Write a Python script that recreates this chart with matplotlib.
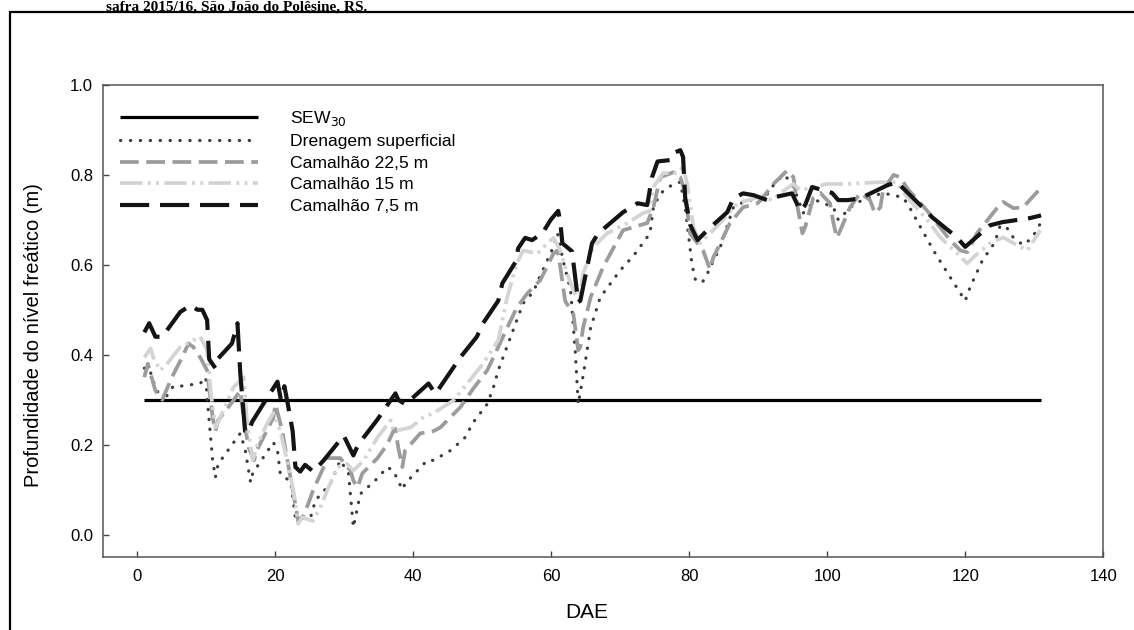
import matplotlib
matplotlib.use("Agg")
import matplotlib.pyplot as plt
from matplotlib.patches import Rectangle

plt.rcParams['font.family'] = ['Liberation Sans', 'DejaVu Sans']

# SEW30 reference level
sew_x = [1, 131]
sew_y = [0.3, 0.3]

# Drenagem superficial
dren_x = [1, 1.7, 2.6, 3.8, 4.3, 5.2, 6.2, 9.1, 9.9, 10.1, 10.9, 11.3, 11.7, 14.9, 15.2,
          15.6, 16.4, 16.7, 19.7, 20.3, 20.7, 21.2, 22.2, 22.9, 23.9, 25.1, 25.8, 28, 29.4,
          30.6, 31.3, 32.3, 34.8, 36.2, 37.1, 38.4, 38.8, 42, 42.9, 45.4, 47.5, 48.7, 50.7,
          51.6, 52.3, 55, 55.9, 57.4, 58.1, 60.1, 60.9, 61.7, 62.8, 63.5, 63.9, 64.5, 65.7,
          67.1, 70, 71.9, 74.3, 74.8, 75.8, 77.7, 78.7, 79.4, 80.4, 80.9, 81.9, 82.6, 84.5,
          86.4, 88.4, 90.7, 92.2, 93.6, 94.6, 95.7, 96.5, 98.3, 100.9, 101.6, 104, 108, 111,
          112, 115.4, 117.8, 120, 120.7, 122.5, 124.3, 125, 125.8, 127, 128.4, 129.7, 131.2]
dren_y = [0.37, 0.37, 0.327, 0.294, 0.31, 0.33, 0.33, 0.336, 0.35, 0.305, 0.165, 0.127, 0.157, 0.225, 0.21,
          0.19, 0.116, 0.136, 0.205, 0.187, 0.136, 0.127, 0.12, 0.036, 0.036, 0.038, 0.076, 0.114, 0.165,
          0.136, 0.016, 0.09, 0.125, 0.15, 0.142, 0.10, 0.113, 0.165, 0.165, 0.187, 0.216, 0.25, 0.29,
          0.327, 0.365, 0.477, 0.514, 0.54, 0.566, 0.633, 0.67, 0.61, 0.543, 0.40, 0.29, 0.343, 0.46,
          0.528, 0.588, 0.62, 0.67, 0.728, 0.759, 0.78, 0.784, 0.728, 0.60, 0.566, 0.561, 0.58, 0.64,
          0.728, 0.744, 0.744, 0.777, 0.80, 0.788, 0.75, 0.715, 0.744, 0.728, 0.70, 0.737, 0.76, 0.75,
          0.726, 0.632, 0.573, 0.52, 0.55, 0.61, 0.65, 0.684, 0.688, 0.66, 0.644, 0.66, 0.70]

# Camalhao 22,5 m
c225_x = [1, 1.5, 2.6, 3.6, 5, 6.5, 7.4, 8.1, 9.1, 10.1, 10.9, 11.3, 11.7, 13.9, 14.9,
          15.4, 16.1, 16.9, 17.4, 19.7, 20, 21, 21.4, 22.5, 23.3, 24, 24.8, 25.5, 27, 27.5,
          29.4, 30.9, 31.3, 31.9, 32.6, 34.8, 36.2, 37.1, 37.4, 37.8, 38.4, 38.8, 41, 42.9,
          43.9, 46.8, 48.7, 50.7, 51.6, 53.6, 55, 56.5, 58.4, 60.3, 60.9, 61.3, 62, 63.2,
          63.9, 64.2, 64.6, 65.7, 67.5, 70.4, 73.9, 74.8, 75.8, 77.7, 78.7, 79.4, 80.1, 82,
          83, 83.5, 84.5, 85.9, 87.8, 89.9, 90.7, 92.2, 94.2, 95.1, 95.7, 96.4, 96.8, 98,
          99, 100.4, 100.9, 101.4, 101.9, 103.3, 104.8, 106.2, 106.9, 107.7, 108.1, 109.6,
          110.6, 111.6, 114.5, 117.8, 119.3, 120.3, 121.7, 124.6, 125.5, 127, 128.4, 130.9]
c225_y = [0.35, 0.38, 0.32, 0.30, 0.35, 0.395, 0.425, 0.417, 0.394, 0.365, 0.26, 0.23, 0.254, 0.298, 0.32,
          0.26, 0.194, 0.165, 0.19, 0.26, 0.29, 0.23, 0.194, 0.10, 0.03, 0.04, 0.07, 0.10, 0.15, 0.17,
          0.17, 0.142, 0.12, 0.105, 0.136, 0.17, 0.2, 0.23, 0.235, 0.194, 0.15, 0.187, 0.225, 0.23,
          0.238, 0.283, 0.325, 0.365, 0.394, 0.46, 0.505, 0.536, 0.566, 0.625, 0.632, 0.595, 0.52, 0.49,
          0.41, 0.417, 0.46, 0.528, 0.595, 0.677, 0.693, 0.728, 0.795, 0.806, 0.795, 0.76, 0.67, 0.632,
          0.59, 0.617, 0.648, 0.693, 0.728, 0.737, 0.75, 0.78, 0.81, 0.795, 0.728, 0.67, 0.684, 0.75,
          0.76, 0.737, 0.693, 0.66, 0.677, 0.728, 0.76, 0.744, 0.715, 0.728, 0.766, 0.80,
          0.795, 0.77, 0.72, 0.655, 0.632, 0.628, 0.67, 0.726, 0.74, 0.726, 0.728, 0.77]

# Camalhao 15 m
c15_x = [1, 1.9, 2.3, 3.3, 4.3, 6.2, 9.1, 10.1, 10.6, 11.3, 12, 13.9, 15.4, 15.9, 16.7,
         17.4, 18.8, 19.7, 20.7, 21.7, 22.6, 23.3, 23.9, 25.4, 26.5, 27.5, 29, 30.4, 31.3,
         32.8, 34.8, 36.7, 37.1, 39.6, 41.4, 42.9, 45.8, 47.8, 50.1, 52.3, 53.6, 55, 55.9,
         58, 59.4, 60.3, 61.3, 62.3, 63.2, 64, 64.6, 66.1, 68.1, 71, 73.3, 74.3, 74.8, 76.2,
         78.3, 79.1, 79.7, 80.6, 81.6, 83, 84.9, 87, 89.9, 92.2, 93.2, 95.1, 96.1, 98, 100,
         102.9, 107.7, 110, 111.6, 114.5, 116.4, 118.8, 120.3, 121.2, 123.6, 125.5, 127.5,
         129, 130.9]
c15_y = [0.394, 0.414, 0.394, 0.365, 0.38, 0.417, 0.44, 0.41, 0.32, 0.238, 0.26, 0.327, 0.35, 0.25, 0.165,
         0.2, 0.247, 0.27, 0.23, 0.165, 0.098, 0.024, 0.038, 0.03, 0.06, 0.098, 0.15, 0.157, 0.142,
         0.165, 0.216, 0.254, 0.23, 0.238, 0.26, 0.27, 0.298, 0.336, 0.38, 0.432, 0.528, 0.603, 0.632,
         0.625, 0.648, 0.66, 0.632, 0.58, 0.543, 0.52, 0.58, 0.64, 0.67, 0.693, 0.715, 0.72, 0.773, 0.804,
         0.804, 0.817, 0.78, 0.684, 0.648, 0.67, 0.70, 0.737, 0.75, 0.744, 0.76, 0.78, 0.766, 0.773, 0.78,
         0.78, 0.784, 0.784, 0.75, 0.70, 0.661, 0.626, 0.603, 0.617, 0.648, 0.661, 0.644,
         0.632, 0.677]

# Camalhao 7,5 m
c75_x = [1, 1.7, 2.6, 3.6, 6.2, 7.7, 8.7, 9.4, 10.1, 10.4, 11.3, 11.6, 13.7, 14.5, 14.9,
         15.6, 16.1, 16.6, 18.1, 20.3, 20.8, 21.3, 21.8, 22.5, 22.9, 23.6, 24.3, 25.5, 27,
         29.9, 31.3, 32, 34.8, 36, 37.4, 37.8, 38.8, 39.6, 42.2, 43.2, 46.8, 49.2, 50.1,
         52.3, 52.9, 54.8, 55.2, 56.2, 57.2, 58.7, 59.9, 61, 61.3, 61.6, 63, 63.4, 63.9,
         64.2, 65.9, 66.8, 70.4, 72.5, 73.9, 74.6, 75.4, 77.2, 77.7, 78.7, 79.1, 79.4, 80.1,
         81.2, 82.6, 85.5, 86.4, 87.8, 89.3, 91.3, 92.2, 94.9, 96.1, 96.8, 97.8, 99.4, 100.7,
         101.6, 103, 104.8, 108.7, 110.1, 113.8, 115.2, 118.8, 120, 123.6, 125.4, 129.4, 131]
c75_y = [0.45, 0.47, 0.44, 0.44, 0.495, 0.51, 0.50, 0.50, 0.477, 0.39, 0.37, 0.39, 0.425, 0.47, 0.36,
         0.23, 0.227, 0.25, 0.287, 0.34, 0.30, 0.33, 0.29, 0.23, 0.15, 0.14, 0.155, 0.14, 0.165,
         0.22, 0.176, 0.2, 0.256, 0.283, 0.314, 0.30, 0.29, 0.30, 0.336, 0.313, 0.394, 0.44, 0.47,
         0.52, 0.559, 0.606, 0.637, 0.66, 0.655, 0.67, 0.70, 0.72, 0.695, 0.648, 0.63, 0.58, 0.517,
         0.52, 0.648, 0.67, 0.717, 0.737, 0.733, 0.795, 0.83, 0.833, 0.849, 0.855, 0.84, 0.75, 0.69,
         0.655, 0.677, 0.717, 0.748, 0.759, 0.755, 0.744, 0.75, 0.759, 0.72, 0.733, 0.773, 0.766, 0.76,
         0.744, 0.744, 0.748, 0.777, 0.784, 0.728, 0.706, 0.661, 0.64, 0.688, 0.695, 0.704, 0.71]

x_ticks = [0, 20, 40, 60, 80, 100, 120, 140]
y_ticks = [0.0, 0.2, 0.4, 0.6, 0.8, 1.0]

fig = plt.figure(figsize=(11.34, 6.3), dpi=100)
ax = fig.add_axes([0.0908, 0.1159, 0.882, 0.7491])

ax.plot(sew_x, sew_y, color='black', lw=2.3, solid_capstyle='butt', label='SEW$_{30}$')
ax.plot(dren_x, dren_y, color='#3c3c3c', lw=2.3, dashes=(0.1, 3.0), dash_capstyle='round',
        label='Drenagem superficial')
ax.plot(c225_x, c225_y, color='#9c9c9c', lw=2.7, dashes=(5.0, 2.0),
        label='Camalhão 22,5 m')
ax.plot(c15_x, c15_y, color='#d4d4d4', lw=2.7, dashes=(6.0, 1.4, 0.8, 1.4, 0.8, 1.4),
        label='Camalhão 15 m')
ax.plot(c75_x, c75_y, color='#141414', lw=3.0, dashes=(7.0, 2.6),
        label='Camalhão 7,5 m')

ax.set_xlim(-5, 140)
ax.set_ylim(-0.05, 1.0)
ax.set_xticks(x_ticks)
ax.set_yticks(y_ticks)
ax.set_yticklabels(['%.1f' % v for v in y_ticks])
ax.tick_params(direction='in', length=4.5, width=1, color='#444444', labelsize=12)
ax.tick_params(axis='x', pad=9)
ax.tick_params(axis='y', pad=7)
for s in ax.spines.values():
    s.set_color('#555555')
    s.set_linewidth(1.1)

ax.set_xlabel('DAE', fontsize=15)
ax.set_ylabel('Profundidade do nível freático (m)', fontsize=14.5)
ax.xaxis.set_label_coords(0.484, -0.097)
ax.yaxis.set_label_coords(-0.06, 0.47)

ax.legend(loc='upper left', bbox_to_anchor=(0.017, 0.95), frameon=False, fontsize=12.6,
          handlelength=7.9, handletextpad=1.8, labelspacing=0.36, borderpad=0, borderaxespad=0)

# outer figure frame and the caption line above it
fig.patches.append(Rectangle((10 / 1134, -0.05), 1.2, 1 - 12 / 630 + 0.05,
                             transform=fig.transFigure, fill=False, lw=1.6,
                             edgecolor='black', clip_on=False))
fig.text(106 / 1134, 1 - 10.5 / 630, 'safra 2015/16, São João do Polêsine, RS.',
         family=['Liberation Serif', 'DejaVu Serif'], weight='bold', fontsize=11,
         va='baseline', ha='left')

fig.savefig('out.png', dpi=100)
